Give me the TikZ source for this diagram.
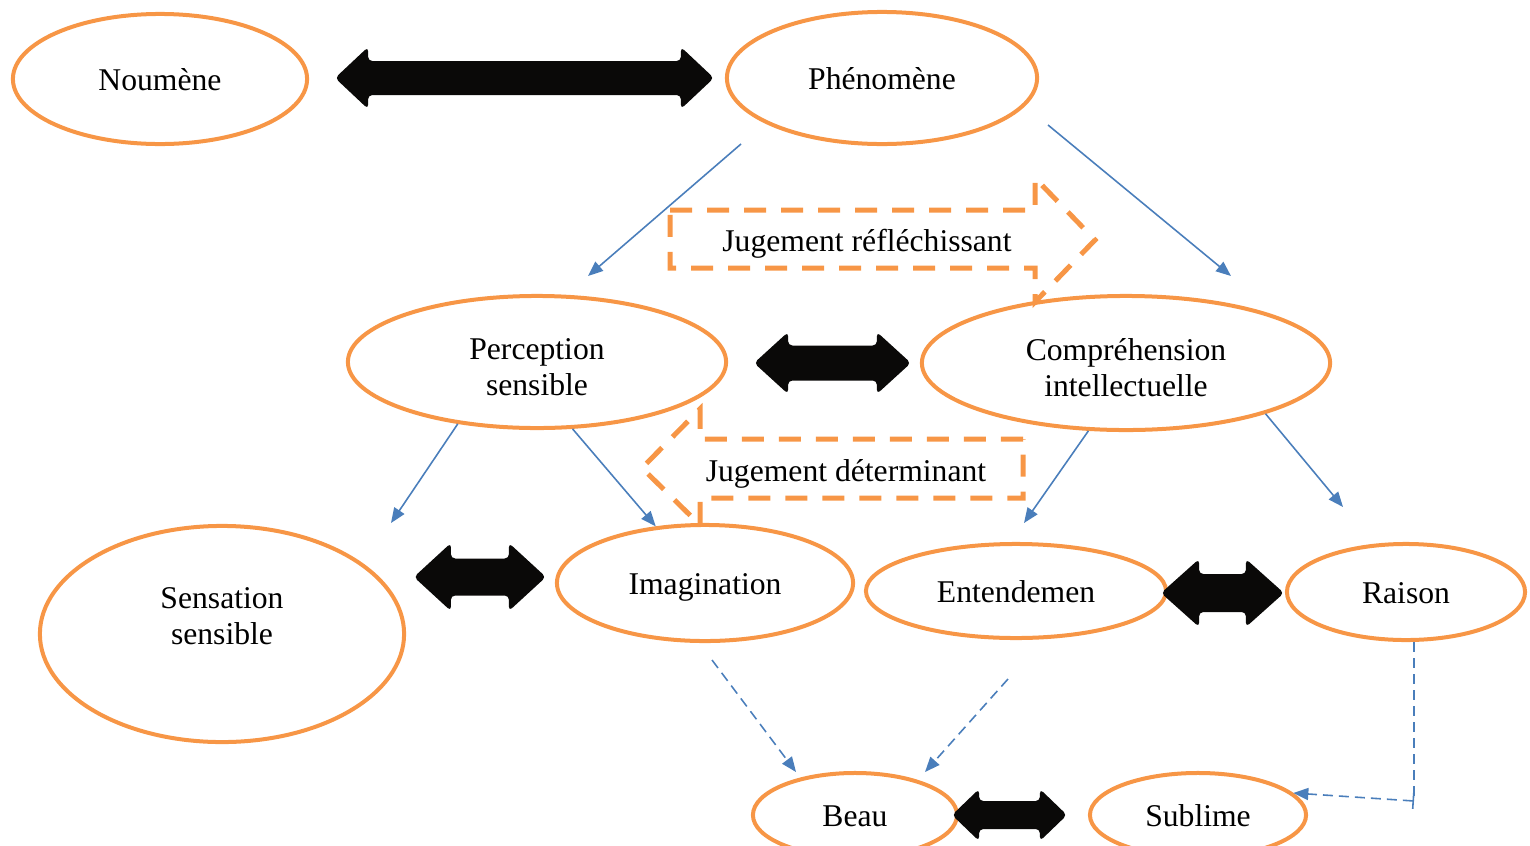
\documentclass[tikz,border=0pt]{standalone}
\usepackage{fontspec}
\setmainfont{Liberation Serif}
\usepackage{tikz}
\usetikzlibrary{shapes,arrows.meta,calc}
\usepackage{xcolor}
\definecolor{kantorange}{HTML}{F79646}
\definecolor{kantblue}{HTML}{4A7EBB}
\definecolor{kantblack}{HTML}{0A0908}

% thick black two-headed block arrow: left tip, right tip, head half, shaft half, head length
\newcommand{\dblarrow}[5]{%
  \path (#1) coordinate (la) (#2) coordinate (ra);
  \fill[kantblack, rounded corners=1.2pt] (la) -- ++(#5,-#3) -- ++(0,{#3-#4})
    -- ($(ra)+(-#5,-#4)$) -- ++(0,{#4-#3}) -- (ra) -- ++(-#5,#3) -- ++(0,{#4-#3})
    -- ($(la)+(#5,#4)$) -- ++(0,{#3-#4}) -- cycle;}

\begin{document}
\begin{tikzpicture}[x=0.01cm, y=-0.01cm, font=\fontsize{9}{10.2}\selectfont,
  every node/.style={ellipse, draw=kantorange, line width=0.4mm, inner sep=0pt, align=center},
  oneline/.style={text height=6.3pt, text depth=0pt},
  link/.style={kantblue, line width=0.45pt, -{Triangle[length=1.5mm,width=1.2mm]}},
  dashlink/.style={link, dash pattern=on 1mm off 0.6mm},
  judg/.style={kantorange, line width=0.5mm, dash pattern=on 2.2mm off 1.5mm, line join=miter}]
\useasboundingbox (0,0) rectangle (1530,845);

\node[oneline, minimum width=2.94cm, minimum height=1.30cm] (noum) at (160,79) {Noumène};
\node[oneline, minimum width=3.10cm, minimum height=1.32cm] (phen) at (882,78) {Phénomène};
\node[minimum width=3.78cm, minimum height=1.32cm] (perc) at (537,362) {\rule{0pt}{9pt}Perception\\sensible};
\node[minimum width=4.08cm, minimum height=1.34cm] (comp) at (1126,363) {\rule{0pt}{9pt}Compréhension\\intellectuelle};
\node[minimum width=3.64cm, minimum height=2.16cm] (sens) at (222,634) {Sensation\\sensible\\\mbox{}};
\node[oneline, minimum width=2.96cm, minimum height=1.16cm] (imag) at (705,583) {Imagination};
\node[oneline, minimum width=3.00cm, minimum height=0.94cm] (ent) at (1016,591) {Entendemen};
\node[oneline, minimum width=2.38cm, minimum height=0.96cm] (rais) at (1406,592) {Raison};
\node[oneline, minimum width=2.04cm, minimum height=0.84cm] (beau) at (855,815) {Beau};
\node[oneline, minimum width=2.16cm, minimum height=0.84cm] (subl) at (1198,815) {Sublime};

% block arrows
\dblarrow{$(noum.east)+(26,-1)$}{$(phen.west)+(-11,0)$}{31}{17}{33}
\dblarrow{$(perc.east)+(26,1)$}{$(comp.west)+(-9,0)$}{31}{17.5}{34}
\dblarrow{$(imag.west)+(-141,-6)$}{$(imag.west)+(-9,-6)$}{34}{18.5}{37}
\dblarrow{$(ent.east)+(-7,2)$}{$(rais.west)+(-1,1)$}{34}{19}{38}
\dblarrow{$(beau.east)+(-7,0)$}{$(subl.west)+(-21,0)$}{26}{14}{27}

% judgements
\draw[judg] (670,210) -- (1035,210) -- (1035,178) -- (1095,240) -- (1035,302) -- (1035,268) -- (670,268) -- cycle;
\node[draw=none, rectangle] (refl) at (867,244) {Jugement réfléchissant};
\draw[judg] (1023,439) -- (700,439) -- (700,409) -- (642,468) -- (700,525) -- (700,498) -- (1023,498) -- cycle;
\node[draw=none, rectangle] (det) at (846,474) {Jugement déterminant};

% blue links
\coordinate (p1) at (741,144);
\coordinate (p2) at (588,276);
\coordinate (p3) at (1048,125);
\coordinate (p4) at (1231,276);
\coordinate (p5) at (391,523);
\coordinate (p6) at (1024,523);
\coordinate (p7) at (1343,507);
\coordinate (p8) at (712,660);
\coordinate (p9) at (796,772);
\coordinate (p10) at (1008,679);
\coordinate (p11) at (925,772);
\coordinate (rc) at (1414,801);
\draw[link] (p1) -- (p2);
\draw[link] (p3) -- (p4);
\draw[link] (perc.218) -- (p5);
\draw[link] (perc.298) -- (imag.131);
\draw[link] (comp.241) -- (p6);
\draw[link] (comp.340) -- (p7);
\draw[dashlink] (p8) -- (p9);
\draw[dashlink] (p10) -- (p11);
\draw[kantblue, line width=0.45pt, dash pattern=on 1mm off 0.6mm] (rc |- rais.south) -- (rc);
\draw[dashlink, {Bar[width=1.6mm]}-{Triangle[length=1.5mm,width=1.2mm]}] (rc) -- (subl.13);
\end{tikzpicture}
\end{document}
